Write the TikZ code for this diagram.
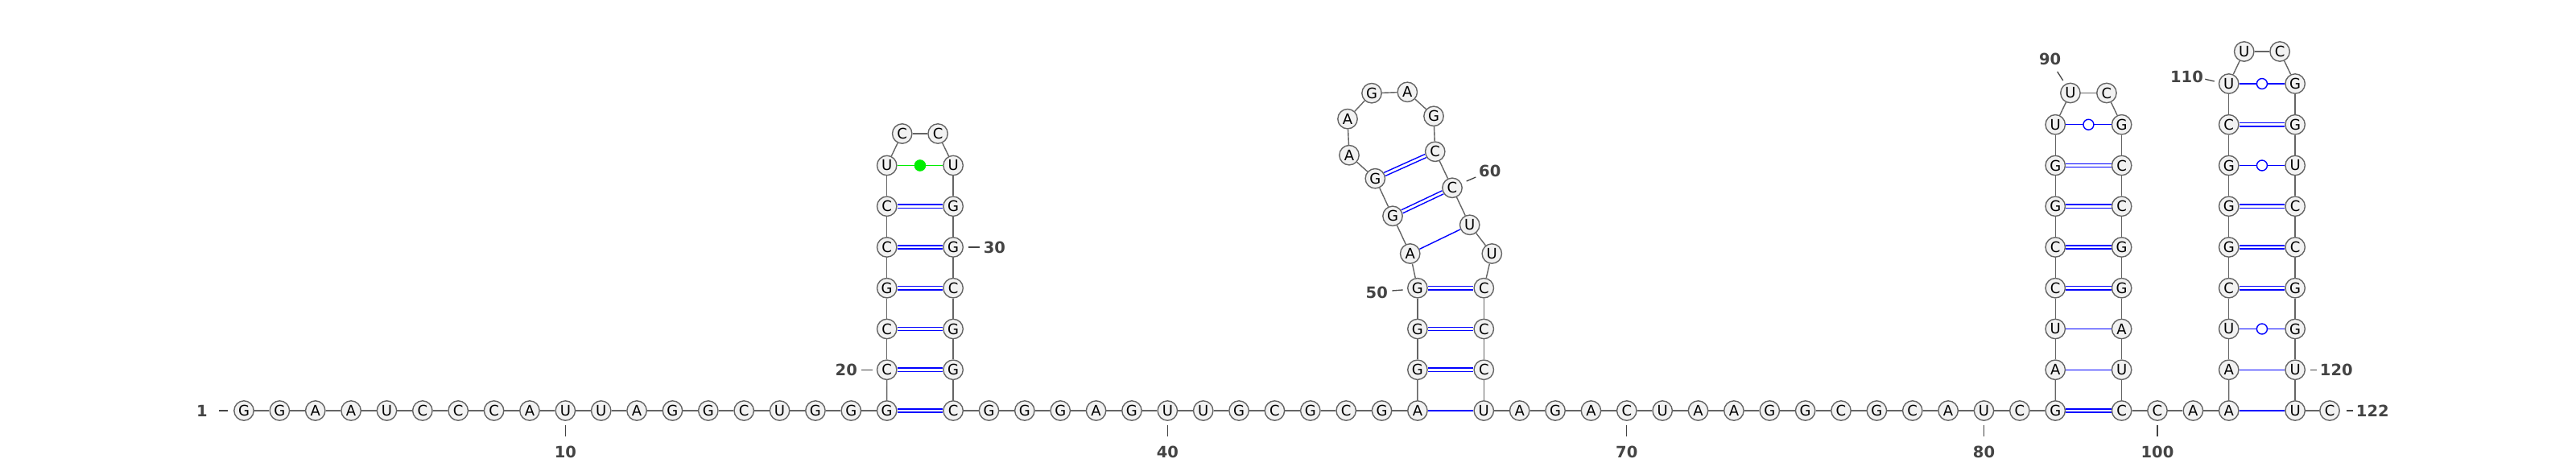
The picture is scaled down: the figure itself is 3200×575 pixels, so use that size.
\documentclass[tikz,border=0pt]{standalone}
\usepackage{fontspec}
\setmainfont{DejaVu Sans}
\usetikzlibrary{calc}
\definecolor{ncfill}{HTML}{F2F2F2}
\definecolor{ncline}{HTML}{656565}
\definecolor{lblcol}{HTML}{444444}
\definecolor{nongreen}{HTML}{00EE00}
\begin{document}
\begin{tikzpicture}[x=1pt,y=-1pt,
  nt/.style={circle, draw=ncline, fill=ncfill, line width=1.4pt, minimum size=24.4pt, inner sep=0pt, font=\fontsize{18}{18}\selectfont},
  bb/.style={draw=ncline, line width=1.4pt},
  gcpair/.style={draw=blue, line width=1.5pt, double=white, double distance=2.8pt},
  aupair/.style={draw=blue, line width=1.4pt},
  gupair/.style={draw=blue, line width=1.4pt},
  wob/.style={circle, draw=blue, fill=white, line width=1.4pt, minimum size=13pt, inner sep=0pt},
  uupair/.style={draw=nongreen, line width=1.4pt},
  ncdot/.style={circle, fill=nongreen, minimum size=14.6pt, inner sep=0pt},
  lbl/.style={font=\fontsize{19.5}{19.5}\selectfont\bfseries, text=lblcol, inner sep=0pt},
  tick/.style={draw=lblcol, line width=1.3pt}
]
\useasboundingbox (0,0) rectangle (3200,575);
\fill[white] (0,0) rectangle (3200,575);

% ---- nucleotides ----
\foreach \i/\b in {1/G,2/G,3/A,4/A,5/U,6/C,7/C,8/C,9/A,10/U,11/U,12/A,13/G,14/G,15/C,16/U,17/G,18/G,19/G}
  \node[nt] (n\i) at ({303+(\i-1)*44.37},510) {\b};
\foreach \i/\b in {20/C,21/C,22/G,23/C,24/C,25/U}
  \node[nt] (n\i) at (1101.7,{510-(\i-19)*50.75}) {\b};
\node[nt] (n26) at (1120.7,166) {C};
\node[nt] (n27) at (1165.1,166) {C};
\foreach \i/\b in {28/U,29/G,30/G,31/C,32/G,33/G,34/C}
  \node[nt] (n\i) at (1184.1,{510-(34-\i)*50.75}) {\b};
\foreach \i/\b in {35/G,36/G,37/G,38/A,39/G,40/U,41/U,42/G,43/C,44/G,45/C,46/G,47/A}
  \node[nt] (n\i) at ({1184.1+(\i-34)*44.37},510) {\b};
\foreach \i/\b in {48/G,49/G,50/G}
  \node[nt] (n\i) at (1760.9,{510-(\i-47)*50.75}) {\b};
\node[nt] (n51) at (1751.7,315) {A};
\node[nt] (n52) at (1730,268.3) {G};
\node[nt] (n53) at (1708.3,221.7) {G};
\node[nt] (n54) at (1676,192.7) {A};
\node[nt] (n55) at (1674,147.7) {A};
\node[nt] (n56) at (1704,115.7) {G};
\node[nt] (n57) at (1748.3,114.3) {A};
\node[nt] (n58) at (1781,144.3) {G};
\node[nt] (n59) at (1782.7,188.3) {C};
\node[nt] (n60) at (1804,233.3) {C};
\node[nt] (n61) at (1825.7,279.3) {U};
\node[nt] (n62) at (1853.3,315) {U};
\foreach \i/\b in {63/C,64/C,65/C,66/U}
  \node[nt] (n\i) at (1843.3,{510-(66-\i)*50.75}) {\b};
\foreach \i/\b in {67/A,68/G,69/A,70/C,71/U,72/A,73/A,74/G,75/G,76/C,77/G,78/C,79/A,80/U,81/C,82/G}
  \node[nt] (n\i) at ({1843.3+(\i-66)*44.37},510) {\b};
\foreach \i/\b in {83/A,84/U,85/C,86/C,87/G,88/G,89/U}
  \node[nt] (n\i) at (2553.2,{510-(\i-82)*50.75}) {\b};
\node[nt] (n90) at (2571.9,115.5) {U};
\node[nt] (n91) at (2616.9,115.5) {C};
\foreach \i/\b in {92/G,93/C,94/C,95/G,96/G,97/A,98/U,99/C}
  \node[nt] (n\i) at (2635.6,{510-(99-\i)*50.75}) {\b};
\foreach \i/\b in {100/C,101/A,102/A}
  \node[nt] (n\i) at ({2635.6+(\i-99)*44.37},510) {\b};
\foreach \i/\b in {103/A,104/U,105/C,106/G,107/G,108/G,109/C,110/U}
  \node[nt] (n\i) at (2768.7,{510-(\i-102)*50.75}) {\b};
\node[nt] (n111) at (2787.7,64) {U};
\node[nt] (n112) at (2832.1,64) {C};
\foreach \i/\b in {113/G,114/G,115/U,116/C,117/C,118/G,119/G,120/U,121/U}
  \node[nt] (n\i) at (2851.1,{510-(121-\i)*50.75}) {\b};
\node[nt] (n122) at (2894,510) {C};

% ---- backbone ----
\foreach \i [evaluate=\i as \j using int(\i+1)] in {1,...,121}
  \draw[bb] (n\i) -- (n\j);

% ---- base pairs ----
\foreach \a/\b in {19/34,20/33,21/32,22/31,23/30,24/29,48/65,49/64,50/63,52/60,53/59,82/99,85/96,86/95,87/94,88/93,105/118,106/117,107/116,109/114}
  \draw[gcpair] (n\a) -- (n\b);
\foreach \a/\b in {47/66,51/61,83/98,84/97,102/121,103/120}
  \draw[aupair] (n\a) -- (n\b);
\foreach \a/\b in {89/92,104/119,108/115,110/113}{
  \draw[gupair] (n\a) -- (n\b);
  \node[wob] (w\a) at ($(n\a)!0.5!(n\b)$) {};
}
\draw[uupair] (n25) -- (n28);
\node[ncdot] (d25) at ($(n25)!0.5!(n28)$) {};

% ---- numbering ----
\node[lbl] (l1) at (251,510) {1};
\draw[tick] ($(n1)+(-31,0)$) -- ($(n1)+(-20,0)$);
\foreach \i in {10,40,70,80,100}{
  \node[lbl] (l\i) at ($(n\i)+(0,51)$) {\i};
  \draw[tick] ($(n\i)+(0,18)$) -- ($(n\i)+(0,32)$);
}
\node[lbl, anchor=east] (l20) at ($(n20)+(-36.7,0)$) {20};
\draw[tick] ($(n20)+(-31.7,0)$) -- ($(n20)+(-17.7,0)$);
\node[lbl, anchor=west] (l30) at ($(n30)+(37.6,0)$) {30};
\draw[tick] ($(n30)+(19.2,0)$) -- ($(n30)+(32.6,0)$);
\node[lbl, anchor=east] (l50) at ($(n50)+(-36.9,5.5)$) {50};
\draw[tick] ($(n50)+(-31.6,3.25)$) -- ($(n50)+(-18.2,2.25)$);
\node[lbl, anchor=west] (l60) at ($(n60)+(33,-20.6)$) {60};
\draw[tick] ($(n60)+(17.7,-8.3)$) -- ($(n60)+(29.3,-13.3)$);
\node[lbl] (l90) at ($(n90)+(-25.2,-42.2)$) {90};
\draw[tick] ($(n90)+(-16.2,-26.5)$) -- ($(n90)+(-9.2,-15.5)$);
\node[lbl, anchor=east] (l110) at ($(n110)+(-31.7,-9)$) {110};
\draw[tick] ($(n110)+(-29.4,-5.7)$) -- ($(n110)+(-18,-3)$);
\node[lbl, anchor=west] (l120) at ($(n120)+(30.6,0)$) {120};
\draw[tick] ($(n120)+(18.9,0)$) -- ($(n120)+(27.2,0)$);
\node[lbl, anchor=west] (l122) at ($(n122)+(32.7,0)$) {122};
\draw[tick] ($(n122)+(21,0)$) -- ($(n122)+(29.3,0)$);
\end{tikzpicture}
\end{document}
